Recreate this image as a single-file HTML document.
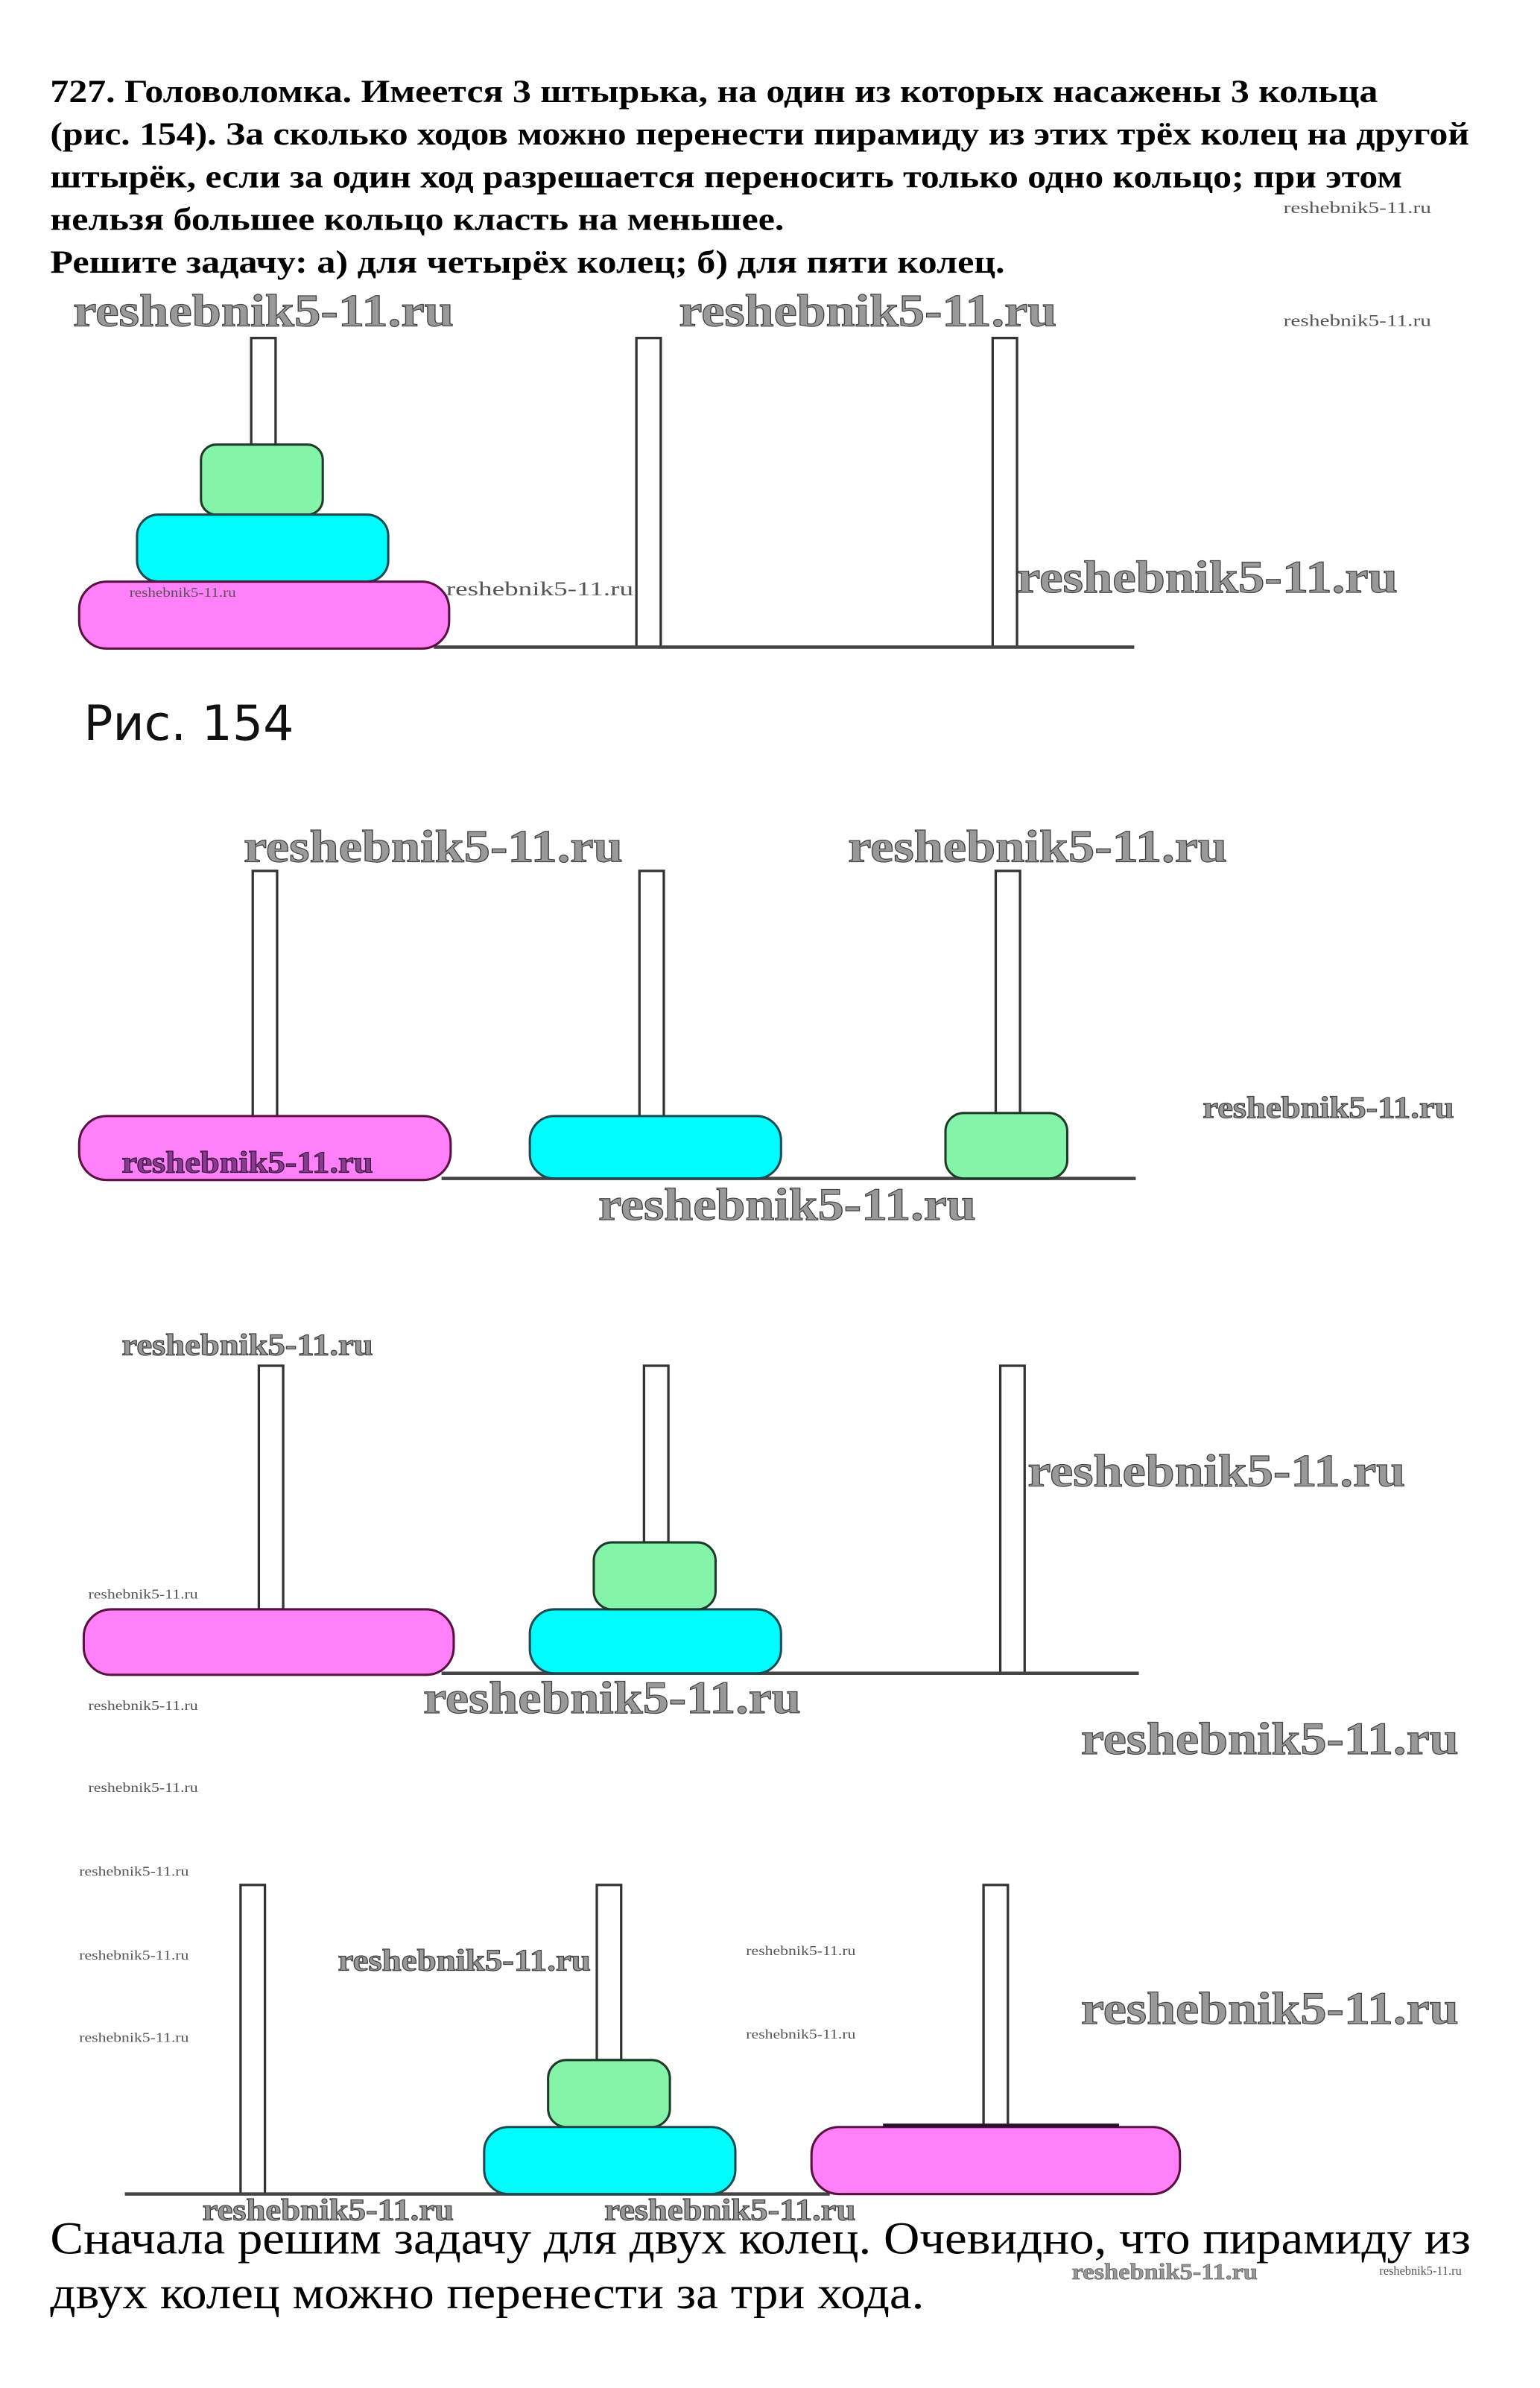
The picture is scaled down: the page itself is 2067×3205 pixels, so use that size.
<!DOCTYPE html>
<html><head><meta charset="utf-8"><style>
html,body{margin:0;padding:0;background:#fff;}
svg{display:block;}
.t{font-family:"Liberation Serif","Noto Serif CJK SC",serif;font-weight:bold;font-size:21px;fill:#000;}
.b{font-family:"Liberation Serif","Noto Serif CJK SC",serif;font-size:30px;fill:#000;}
.w{font-family:"Liberation Serif",serif;font-weight:bold;fill:#999;stroke:#444;stroke-width:0.6;}
.ws{font-family:"Liberation Serif",serif;fill:#555;}
.peg{fill:#fff;stroke:#333;stroke-width:1.6;}
.g{stroke:#444;stroke-width:2.2;}
.pk{fill:#ff80f8;stroke:#5a1040;stroke-width:1.5;}
.cy{fill:#00fcfc;stroke:#1a4a50;stroke-width:1.5;}
.gr{fill:#84f4a8;stroke:#1f3a2a;stroke-width:1.5;}
</style></head><body>
<svg width="2067" height="3205" viewBox="0 0 1011.5 1568.4" xmlns="http://www.w3.org/2000/svg">
<rect width="1011.5" height="1568.4" fill="#fff"/>
<text class="t" x="33" y="67" textLength="872" lengthAdjust="spacingAndGlyphs">727. Головоломка. Имеется 3 штырька, на один из которых насажены 3 кольца</text>
<text class="t" x="33" y="95" textLength="932" lengthAdjust="spacingAndGlyphs">(рис. 154). За сколько ходов можно перенести пирамиду из этих трёх колец на другой</text>
<text class="t" x="33" y="123" textLength="888" lengthAdjust="spacingAndGlyphs">штырёк, если за один ход разрешается переносить только одно кольцо; при этом</text>
<text class="t" x="33" y="151" textLength="482" lengthAdjust="spacingAndGlyphs">нельзя большее кольцо класть на меньшее.</text>
<text class="t" x="33" y="179" textLength="627" lengthAdjust="spacingAndGlyphs">Решите задачу: а) для четырёх колец; б) для пяти колец.</text>

<!-- Fig 1 -->
<text class="ws" x="843" y="140" font-size="11" textLength="97" lengthAdjust="spacingAndGlyphs">reshebnik5-11.ru</text>
<text class="w" x="48" y="214" font-size="30" textLength="250" lengthAdjust="spacingAndGlyphs">reshebnik5-11.ru</text>
<text class="w" x="446" y="214" font-size="30" textLength="248" lengthAdjust="spacingAndGlyphs">reshebnik5-11.ru</text>
<text class="ws" x="843" y="214" font-size="11" textLength="97" lengthAdjust="spacingAndGlyphs">reshebnik5-11.ru</text>
<rect class="peg" x="165" y="222" width="16" height="120"/>
<rect class="peg" x="418" y="222" width="16" height="203"/>
<rect class="peg" x="652" y="222" width="16" height="203"/>
<line class="g" x1="285" y1="425" x2="745" y2="425"/>
<rect class="gr" x="132" y="292" width="80" height="46" rx="10"/>
<rect class="cy" x="90" y="338" width="165" height="44" rx="14"/>
<rect class="pk" x="52" y="382" width="243" height="44" rx="18"/>
<text class="ws" x="85" y="392" font-size="9" textLength="70" lengthAdjust="spacingAndGlyphs">reshebnik5-11.ru</text>
<text class="ws" x="293" y="391" font-size="13" textLength="123" lengthAdjust="spacingAndGlyphs">reshebnik5-11.ru</text>
<text class="w" x="668" y="389" font-size="30" textLength="250" lengthAdjust="spacingAndGlyphs">reshebnik5-11.ru</text>
<text x="55" y="486" font-family="'DejaVu Sans','Liberation Sans',sans-serif" font-size="32" fill="#111" textLength="138" lengthAdjust="spacingAndGlyphs">Рис. 154</text>

<!-- Fig 2 -->
<text class="w" x="160" y="566" font-size="30" textLength="249" lengthAdjust="spacingAndGlyphs">reshebnik5-11.ru</text>
<text class="w" x="557" y="566" font-size="30" textLength="249" lengthAdjust="spacingAndGlyphs">reshebnik5-11.ru</text>
<rect class="peg" x="166" y="572" width="16" height="162"/>
<rect class="peg" x="420" y="572" width="16" height="162"/>
<rect class="peg" x="654" y="572" width="16" height="160"/>
<line class="g" x1="290" y1="774" x2="746" y2="774"/>
<rect class="pk" x="52" y="733" width="244" height="42" rx="18"/>
<rect class="cy" x="348" y="733" width="165" height="41" rx="16"/>
<rect class="gr" x="621" y="731" width="80" height="43" rx="12"/>
<text class="w" x="80" y="770" font-size="20" textLength="165" lengthAdjust="spacingAndGlyphs" style="fill:#8a3a90;stroke:#3a1a40">reshebnik5-11.ru</text>
<text class="w" x="790" y="734" font-size="20" textLength="165" lengthAdjust="spacingAndGlyphs">reshebnik5-11.ru</text>
<text class="w" x="393" y="801" font-size="30" textLength="248" lengthAdjust="spacingAndGlyphs">reshebnik5-11.ru</text>

<!-- Fig 3 -->
<text class="w" x="80" y="890" font-size="20" textLength="165" lengthAdjust="spacingAndGlyphs">reshebnik5-11.ru</text>
<rect class="peg" x="170" y="897" width="16" height="160"/>
<rect class="peg" x="423" y="897" width="16" height="116"/>
<rect class="peg" x="657" y="897" width="16" height="202"/>
<text class="w" x="675" y="976" font-size="30" textLength="248" lengthAdjust="spacingAndGlyphs">reshebnik5-11.ru</text>
<line class="g" x1="290" y1="1099" x2="748" y2="1099"/>
<text class="ws" x="58" y="1050" font-size="9" textLength="72" lengthAdjust="spacingAndGlyphs">reshebnik5-11.ru</text>
<rect class="pk" x="55" y="1057" width="243" height="43" rx="18"/>
<rect class="cy" x="348" y="1057" width="165" height="42" rx="16"/>
<rect class="gr" x="390" y="1013" width="80" height="44" rx="12"/>
<text class="w" x="278" y="1125" font-size="30" textLength="248" lengthAdjust="spacingAndGlyphs">reshebnik5-11.ru</text>
<text class="ws" x="58" y="1123" font-size="9" textLength="72" lengthAdjust="spacingAndGlyphs">reshebnik5-11.ru</text>
<text class="w" x="710" y="1152" font-size="30" textLength="248" lengthAdjust="spacingAndGlyphs">reshebnik5-11.ru</text>
<text class="ws" x="58" y="1177" font-size="9" textLength="72" lengthAdjust="spacingAndGlyphs">reshebnik5-11.ru</text>

<!-- Fig 4 -->
<text class="ws" x="52" y="1232" font-size="9" textLength="72" lengthAdjust="spacingAndGlyphs">reshebnik5-11.ru</text>
<rect class="peg" x="158" y="1238" width="16" height="203"/>
<rect class="peg" x="392" y="1238" width="16" height="115"/>
<rect class="peg" x="646" y="1238" width="16" height="158"/>
<text class="ws" x="52" y="1287" font-size="9" textLength="72" lengthAdjust="spacingAndGlyphs">reshebnik5-11.ru</text>
<text class="ws" x="52" y="1341" font-size="9" textLength="72" lengthAdjust="spacingAndGlyphs">reshebnik5-11.ru</text>
<text class="w" x="222" y="1294" font-size="20" textLength="166" lengthAdjust="spacingAndGlyphs">reshebnik5-11.ru</text>
<text class="ws" x="490" y="1284" font-size="9" textLength="72" lengthAdjust="spacingAndGlyphs">reshebnik5-11.ru</text>
<text class="ws" x="490" y="1339" font-size="9" textLength="72" lengthAdjust="spacingAndGlyphs">reshebnik5-11.ru</text>
<text class="w" x="710" y="1329" font-size="30" textLength="248" lengthAdjust="spacingAndGlyphs">reshebnik5-11.ru</text>
<line class="g" x1="82" y1="1441" x2="545" y2="1441"/>
<rect class="gr" x="360" y="1353" width="80" height="44" rx="12"/>
<rect class="cy" x="318" y="1397" width="165" height="44" rx="16"/>
<rect class="pk" x="533" y="1397" width="242" height="44" rx="18"/>
<line x1="580" y1="1396" x2="735" y2="1396" stroke="#2a1030" stroke-width="2.5"/>
<text class="w" x="133" y="1458" font-size="20" textLength="165" lengthAdjust="spacingAndGlyphs">reshebnik5-11.ru</text>
<text class="w" x="397" y="1458" font-size="20" textLength="165" lengthAdjust="spacingAndGlyphs">reshebnik5-11.ru</text>
<text class="b" x="33" y="1480" textLength="933" lengthAdjust="spacingAndGlyphs">Сначала решим задачу для двух колец. Очевидно, что пирамиду из</text>
<text class="w" x="704" y="1497" font-size="15" textLength="122" lengthAdjust="spacingAndGlyphs" style="stroke-width:0.3">reshebnik5-11.ru</text>
<text class="ws" x="906" y="1494" font-size="8" textLength="54" lengthAdjust="spacingAndGlyphs">reshebnik5-11.ru</text>
<text class="b" x="33" y="1516" textLength="574" lengthAdjust="spacingAndGlyphs">двух колец можно перенести за три хода.</text>
</svg>
</body></html>
